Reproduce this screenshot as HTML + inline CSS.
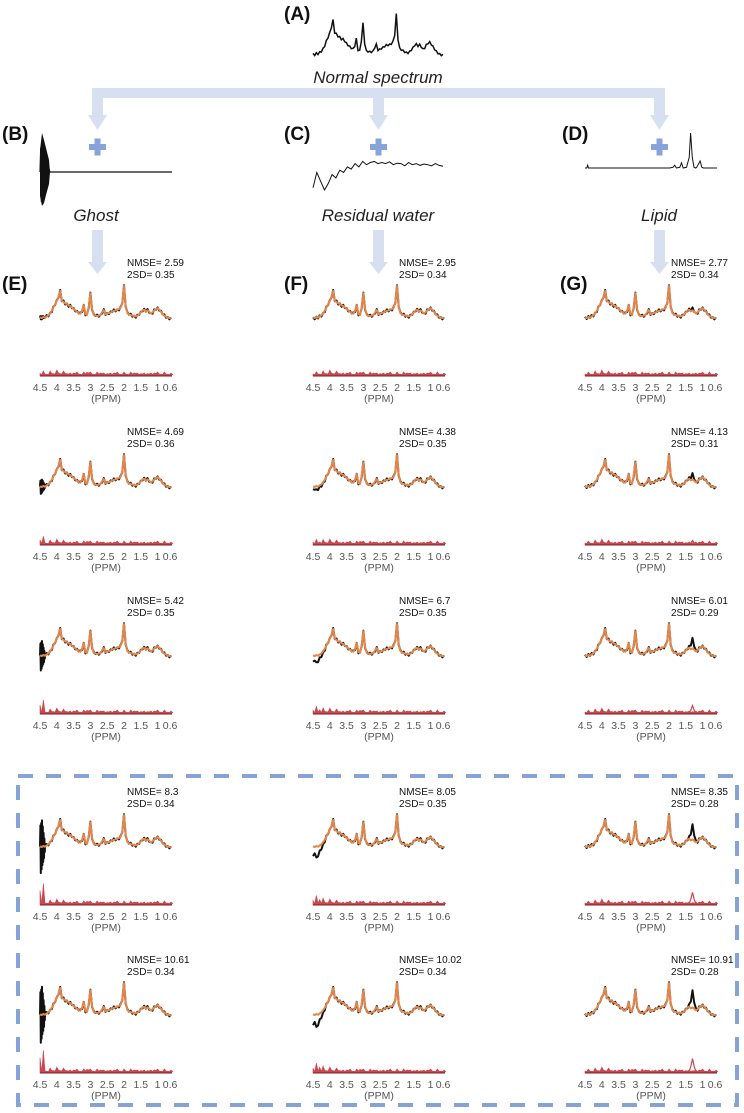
<!DOCTYPE html>
<html><head><meta charset="utf-8">
<style>
html,body{margin:0;padding:0;background:#fff;}
svg{display:block;}
text{font-family:"Liberation Sans","DejaVu Sans",sans-serif;}
</style></head>
<body>
<svg id="fig" width="744" height="1113" viewBox="0 0 744 1113" xmlns="http://www.w3.org/2000/svg">
  <g fill="#d6e0f1">
    <rect x="92" y="88" width="573" height="10"/>
    <rect x="92" y="88" width="11" height="28"/>
    <polygon points="88,115 107,115 97.5,130"/>
    <rect x="373" y="88" width="11" height="28"/>
    <polygon points="369,115 388,115 378.5,130"/>
    <rect x="654" y="88" width="11" height="28"/>
    <polygon points="650,115 669,115 659.5,130"/>
    <rect x="92" y="230" width="11" height="33"/>
    <polygon points="88,262 107,262 97.5,274"/>
    <rect x="373" y="230" width="11" height="33"/>
    <polygon points="369,262 388,262 378.5,274"/>
    <rect x="654" y="230" width="11" height="33"/>
    <polygon points="650,262 669,262 659.5,274"/>
  </g>
  <g fill="#87a4da">
    <rect x="89" y="144" width="17" height="6"/>
    <rect x="94.5" y="138.5" width="6" height="17"/>
    <rect x="370" y="144" width="17" height="6"/>
    <rect x="375.5" y="138.5" width="6" height="17"/>
    <rect x="651" y="144" width="17" height="6"/>
    <rect x="656.5" y="138.5" width="6" height="17"/>
  </g>
  <rect x="18" y="776" width="719" height="329" fill="none" stroke="#86a3d8" stroke-width="4" stroke-dasharray="15 13"/>

  <g font-weight="bold" font-size="19" fill="#111">
    <text x="284" y="20">(A)</text>
    <text x="2" y="140">(B)</text>
    <text x="284" y="140">(C)</text>
    <text x="562" y="140">(D)</text>
    <text x="2" y="290">(E)</text>
    <text x="284" y="290">(F)</text>
    <text x="560" y="290">(G)</text>
  </g>
  <g font-style="italic" font-size="17" fill="#222" text-anchor="middle">
    <text x="378" y="83">Normal spectrum</text>
    <text x="96" y="221">Ghost</text>
    <text x="378" y="221">Residual water</text>
    <text x="659" y="221">Lipid</text>
  </g>
  <g id="plots"></g>
</svg>
<script>
// ---- data ----
const ppmGrid = [4.50,4.45,4.40,4.35,4.30,4.25,4.20,4.15,4.10,4.05,4.00,3.95,3.90,3.85,3.80,3.75,3.70,3.65,3.60,3.55,3.50,3.45,3.40,3.35,3.30,3.25,3.20,3.15,3.10,3.05,3.00,2.95,2.90,2.85,2.80,2.75,2.70,2.65,2.60,2.55,2.50,2.45,2.40,2.35,2.30,2.25,2.20,2.15,2.10,2.05,2.00,1.95,1.90,1.85,1.80,1.75,1.70,1.65,1.60,1.55,1.50,1.45,1.40,1.35,1.30,1.25,1.20,1.15,1.10,1.05,1.00,0.95,0.90,0.85,0.80,0.75,0.70,0.65,0.60];
const normalSpectrum = [.05,.03,.06,.04,.08,.11,.18,.25,.35,.44,.55,.68,.85,.55,.52,.47,.46,.41,.40,.35,.31,.26,.22,.18,.16,.24,.42,.15,.12,.35,.78,.30,.12,.10,.09,.10,.12,.21,.27,.14,.16,.18,.20,.22,.25,.26,.28,.30,.34,.50,1.00,.40,.18,.14,.12,.10,.09,.08,.10,.14,.20,.26,.28,.23,.26,.22,.17,.20,.26,.30,.33,.28,.22,.15,.10,.07,.05,.03,.02];
const noiseTexture = [.02,-.03,.03,-.01,.04,-.03,.01,-.04,.03,-.02];
const ghostOsc = [0,.8,-1,.9,-.85,1,-.7,.75,-.6,.5,-.45,.3,-.2,.1,0];
const waterShape = [-.35,-.18,-.42,-.32,-.22,-.14,-.08,-.03,0];
const lipidShape = [0,.12,.45,1.0,.45,.12,0];
const lipidPpm = [1.45,1.40,1.35,1.30,1.25,1.20,1.15];
const residualNoise = [3,4,3,5,4,6,4,5,4,3,5,4,3,4,6,4,3,4,5,3,4,3,5,4,3,4,3,4,5,3,4,3,4,3,5,4,3,4,3,3];
const rowNmse = {ghost:[2.59,4.69,5.42,8.3,10.61], water:[2.95,4.38,6.7,8.05,10.02], lipid:[2.77,4.13,6.01,8.35,10.91]};
const row2sd = {ghost:[0.35,0.36,0.35,0.34,0.34], water:[0.34,0.35,0.35,0.35,0.34], lipid:[0.34,0.31,0.29,0.28,0.28]};
const artifactLevel = {ghost:[0.05,0.22,0.45,0.8,0.85], water:[0.05,0.3,0.6,0.9,1.0], lipid:[0.05,0.15,0.28,0.42,0.48]};
const tickLabels = ["4.5","4","3.5","3","2.5","2","1.5","1","0.6"];
const tickValues = [4.5,4,3.5,3,2.5,2,1.5,1,0.6];
const waterCurve = [-.9,-.2,-.6,-1,-.7,-.3,-.45,-.1,-.2,.05,-.05,.2,.05,.3,.15,.25,.3,.2,.25,.2,.28,.15,.22,.2,.1,.25,.15,.2,.12,.18,.15,.1,.2,.12,.08];
const lipidCurvePpm = [4.5,4.45,4.42,4.4,4.3,2.0,1.9,1.85,1.8,1.7,1.65,1.6,1.5,1.42,1.38,1.33,1.28,1.23,1.2,1.1,1.05,1.0,0.95,0.9,0.85,0.7,0.6];
const lipidCurveVal = [0,0,.08,0,0,0,.02,.08,0,.02,.15,0,.02,.3,1.0,.3,.02,0,.02,.2,.02,0,0,0,0,0,0];
const rowTops = [262,431,600,791,959];
const colX = {ghost:40, water:313, lipid:585};
const nmseX = {ghost:127, water:399, lipid:671};

// ---- helpers ----
const NS = "http://www.w3.org/2000/svg";
const root = document.getElementById('plots');
const PX_PER_PPM = 33.6;
function xs(x0, ppm){ return x0 + (4.5 - ppm) * PX_PER_PPM; }
function interp(ppm){
  for (let i=0;i<ppmGrid.length-1;i++){
    if (ppm <= ppmGrid[i] && ppm >= ppmGrid[i+1]){
      const t=(ppmGrid[i]-ppm)/(ppmGrid[i]-ppmGrid[i+1]);
      return normalSpectrum[i]*(1-t)+normalSpectrum[i+1]*t;
    }
  }
  return normalSpectrum[normalSpectrum.length-1];
}
function mk(tag, attrs, parent){
  const e=document.createElementNS(NS,tag);
  for (const k in attrs) e.setAttribute(k, attrs[k]);
  (parent||root).appendChild(e);
  return e;
}
function pathFrom(pts){ return pts.map((p,i)=>(i?'L':'M')+p[0].toFixed(1)+' '+p[1].toFixed(1)).join(' '); }

// ---- top panel (A) ----
(function(){
  const x0=313, base=56, sc=42, k=130/3.9;
  const pts=ppmGrid.map((p,i)=>[x0+(4.5-p)*k, base-(normalSpectrum[i]+noiseTexture[i%noiseTexture.length]*0.6)*sc]);
  const e=mk('path',{d:pathFrom(pts),fill:'none',stroke:'#111','stroke-width':1.5});
  
  
})();
// (B) ghost
(function(){
  const b=mk('polygon',{points:'40,150 42,133 44,140 46,148 49,160 50,172 49,184 46,195 44,203 42,206 40,196',fill:'#111'});
  
  
  const pts=[];
  for (let i=0;i<ghostOsc.length;i++) pts.push([40+i*0.7, 172-ghostOsc[i]*30]);
  pts.push([50,172]); pts.push([172,172]);
  const e=mk('path',{d:pathFrom(pts),fill:'none',stroke:'#111','stroke-width':1.2});
  
  
})();
// (C) residual water
(function(){
  const pts=waterCurve.map((v,i)=>[313+i*(130/(waterCurve.length-1)), 168-v*22]);
  const e=mk('path',{d:pathFrom(pts),fill:'none',stroke:'#111','stroke-width':1});
  
  
})();
// (D) lipid
(function(){
  const k=132/3.9;
  const pts=lipidCurvePpm.map((p,i)=>[585+(4.5-p)*k, 168-lipidCurveVal[i]*35]);
  const e=mk('path',{d:pathFrom(pts),fill:'none',stroke:'#111','stroke-width':1});
  
  
})();

// ---- result panels ----
['ghost','water','lipid'].forEach(function(col){
  const x0=colX[col];
  rowTops.forEach(function(N,r){
    const g=mk('g',{});
    
    
    const base=N+57, sc=33, lvl=artifactLevel[col][r];
    const fit=ppmGrid.map((p,i)=>[xs(x0,p), base-normalSpectrum[i]*sc]);
    let meas=[];
    if (col==='ghost'){
      for (let i=0;i<ghostOsc.length;i++){
        const p=4.5-i*0.012;
        meas.push([xs(x0,p), base-(interp(p)+ghostOsc[i]*lvl)*sc]);
      }
      ppmGrid.forEach((p,i)=>{ if(p<4.32) meas.push([xs(x0,p), base-(normalSpectrum[i]+noiseTexture[i%10])*sc]); });
    } else if (col==='water'){
      meas=ppmGrid.map((p,i)=>{
        const w = i<waterShape.length ? waterShape[i]*lvl : 0;
        return [xs(x0,p), base-(normalSpectrum[i]+w+noiseTexture[i%10])*sc];
      });
    } else {
      meas=ppmGrid.map((p,i)=>{
        const j=lipidPpm.findIndex(q=>Math.abs(q-p)<0.001);
        const l = j>=0 ? lipidShape[j]*lvl : 0;
        return [xs(x0,p), base-(normalSpectrum[i]+l+noiseTexture[i%10])*sc];
      });
    }
    const bl=mk('path',{d:pathFrom(meas),fill:'none',stroke:'#111','stroke-width':2,'stroke-linejoin':'round'},g);
    
    
    const ol=mk('path',{d:pathFrom(fit),fill:'none',stroke:'#e5864a','stroke-width':2,'stroke-linejoin':'round'},g);
    
    

    const rb=N+114;
    const rpts=[[xs(x0,4.5),rb]];
    residualNoise.forEach((h,i)=>{
      const p=4.5-i*0.1;
      let extra=0;
      if (col==='ghost' && p>4.3) extra = lvl*(i===0?16:(i===1?22:6));
      if (col==='water' && p>4.1) extra = lvl*([3,6,4,2,1][i]||0);
      rpts.push([xs(x0,p), rb-h*(i%2?1:0.6)-extra]);
      rpts.push([xs(x0,p-0.05), rb-h*0.5]);
    });
    rpts.push([xs(x0,0.6),rb]);
    const rf=mk('path',{d:pathFrom(rpts)+' Z',fill:'#c9474f',stroke:'#c9474f','stroke-width':0.6},g);
    
    
    if (col==='lipid'){
      const lp=lipidPpm.map((p,j)=>[xs(x0,p), rb-lipidShape[j]*lvl*30]);
      const lr=mk('path',{d:pathFrom(lp),fill:'none',stroke:'#c9474f','stroke-width':1.2},g);
      
      
    }
    const axl=mk('line',{x1:x0,x2:x0+132,y1:rb,y2:rb,stroke:'#7a1e25','stroke-width':1},g);
    
    

    tickValues.forEach((v,i)=>{
      const t=mk('text',{x:xs(x0,v)+(i===8?-1:0),y:N+129,'font-size':10.5,fill:'#555','text-anchor':'middle'},g);
      t.textContent=tickLabels[i];
      
      
    });
    const pp=mk('text',{x:x0+66,y:N+140,'font-size':10.5,fill:'#555','text-anchor':'middle'},g);
    pp.textContent='(PPM)';
    
    

    const t1=mk('text',{x:nmseX[col],y:N+4,'font-size':10,fill:'#111'},g);
    t1.textContent='NMSE= '+rowNmse[col][r];
    
    
    const t2=mk('text',{x:nmseX[col],y:N+16,'font-size':10,fill:'#111'},g);
    t2.textContent='2SD= '+row2sd[col][r];
    
    
  });
});
</script>
</body></html>
